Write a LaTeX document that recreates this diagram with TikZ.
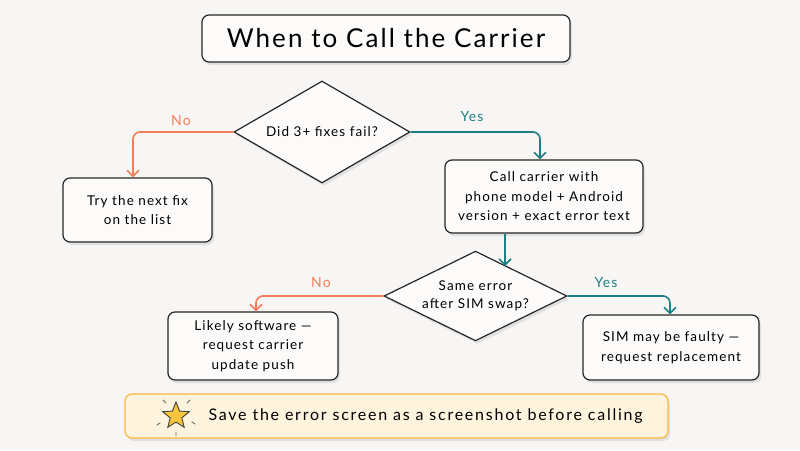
\documentclass[tikz,border=0pt]{standalone}
\usepackage{fontspec}
\setmainfont{Lato}[LetterSpace=8]
\newfontfamily\notefont{Lato}[LetterSpace=11]
\usetikzlibrary{shapes.geometric,shadows,arrows.meta}
\definecolor{bg}{HTML}{F8F6F4}
\definecolor{boxfill}{HTML}{FCFBFA}
\definecolor{noc}{HTML}{F47C5A}
\definecolor{yesc}{HTML}{1E7E86}
\definecolor{notefill}{HTML}{FEF3DD}
\definecolor{noteline}{HTML}{F6B93B}
\definecolor{starfill}{HTML}{F9C53C}
\begin{document}
\begin{tikzpicture}[x=1pt,y=-1pt,
  shade/.style={drop shadow={opacity=0.18, shadow xshift=2pt, shadow yshift=-3pt}},
  box/.style={draw=black!85, line width=1.2pt, rounded corners=7pt, fill=boxfill, shade,
    align=center, font=\fontsize{13.5}{19.5}\selectfont, inner sep=0pt},
  dia/.style={diamond, draw=black!85, line width=1.2pt, fill=boxfill, shade, aspect=1.8,
    align=center, font=\fontsize{13.5}{18.5}\selectfont, inner sep=0pt},
  conn/.style={line width=1.6pt, rounded corners=7pt, -{Straight Barb[length=6pt,width=12pt]}},
  nolab/.style={text=noc, font=\fontsize{14}{16}\selectfont},
  yeslab/.style={text=yesc, font=\fontsize{14}{16}\selectfont},
]
\fill[bg] (0,0) rectangle (800,450);
\useasboundingbox (0,0) rectangle (800,450);

\node[box, minimum width=368pt, minimum height=47pt, font=\fontsize{26}{30}\selectfont]
  (title) at (386,38.5) {When to Call the Carrier};

\node[dia, minimum width=176pt, minimum height=102pt] (d1) at (322,132) {Did 3+ fixes fail?};

\node[box, minimum width=149pt, minimum height=64pt] (b1) at (137.5,210) {Try the next fix\\on the list};
\node[box, minimum width=198pt, minimum height=73pt] (b2) at (544,196.5)
  {Call carrier with\\phone model + Android\\version + exact error text};

\node[dia, minimum width=183pt, minimum height=86pt] (d2) at (475.5,296) {Same error\\after SIM swap?};

\node[box, minimum width=170pt, minimum height=68pt] (b3) at (253,346)
  {Likely software —\\request carrier\\update push};
\node[box, minimum width=176pt, minimum height=65pt] (b4) at (671,347.5)
  {SIM may be faulty —\\request replacement};

\node[box, draw=noteline, fill=notefill, minimum width=543pt, minimum height=44pt] (note) at (396.5,416) {};
\node[anchor=west, font=\notefont\fontsize{16}{19}\selectfont] (notetext) at (205,416)
  {Save the error screen as a screenshot before calling};

\node[star, star points=5, star point ratio=2.3, minimum size=28pt, inner sep=0pt,
  fill=starfill, draw=black!75, line width=0.9pt] (star) at (176,416) {};
\draw[black!60, line width=0.9pt, line cap=round]
  (166,403) -- (163,400)
  (187,403) -- (190,400)
  (160,423) -- (157,425)
  (192,422) -- (195,424)
  (176,432) -- (176,436);

% connectors
\draw[conn, noc] (d1.west) -| ([xshift=-4.5pt]b1.north);
\draw[conn, yesc] (d1.east) -| ([xshift=-4pt]b2.north);
\coordinate (e2) at (505,266);
\draw[conn, yesc] ([xshift=-39pt]b2.south) -- (e2);
\draw[conn, noc] (d2.west) -| ([xshift=3pt]b3.north);
\draw[conn, yesc] (d2.east) -| ([xshift=-1pt]b4.north);

\node[nolab] (no1) at (181,121) {No};
\node[yeslab] (yes1) at (472,117) {Yes};
\node[nolab] (no2) at (321,283) {No};
\node[yeslab] (yes2) at (606,283) {Yes};
\end{tikzpicture}
\end{document}
